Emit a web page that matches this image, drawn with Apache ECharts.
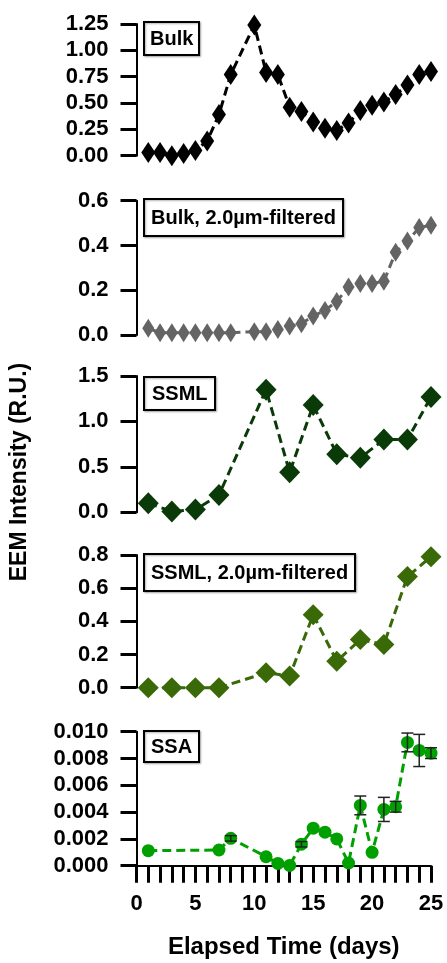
<!DOCTYPE html>
<html>
<head>
<meta charset="utf-8">
<script src="https://cdn.jsdelivr.net/npm/echarts@6/dist/echarts.min.js"></script>
<style>html,body{margin:0;padding:0;background:#fff}#c{width:447px;height:963px}</style>
</head>
<body>
<div id="c"></div>
<script>
// ---- data ----
const bulkDays = [1,2,3,4,5,6,7,8,10,11,12,13,14,15,16,17,18,19,20,21,22,23,24,25];
const bulkVals = [0.03,0.03,0.0,0.02,0.05,0.14,0.39,0.77,1.24,0.79,0.77,0.46,0.42,0.32,0.26,0.24,0.31,0.43,0.48,0.51,0.58,0.67,0.77,0.80];
const bulkFiltDays = [1,2,3,4,5,6,7,8,10,11,12,13,14,15,16,17,18,19,20,21,22,23,24,25];
const bulkFiltVals = [0.03,0.01,0.01,0.01,0.01,0.01,0.01,0.01,0.015,0.015,0.025,0.04,0.05,0.085,0.11,0.15,0.215,0.23,0.23,0.24,0.37,0.42,0.48,0.49];
const ssmlDays = [1,3,5,7,11,13,15,17,19,21,23,25];
const ssmlVals = [0.10,0.01,0.03,0.19,1.35,0.44,1.18,0.64,0.60,0.80,0.80,1.27];
const ssmlFiltDays = [1,3,5,7,11,13,15,17,19,21,23,25];
const ssmlFiltVals = [0.0,0.0,0.0,0.0,0.09,0.07,0.44,0.16,0.29,0.26,0.67,0.79];
const ssaDays = [1,7,8,11,12,13,14,15,16,17,18,19,20,21,22,23,24,25];
const ssaVals = [0.00112,0.00117,0.00204,0.00067,0.00017,0.00002,0.0016,0.0028,0.0025,0.0020,0.0002,0.0045,0.0010,0.0042,0.0044,0.0092,0.0086,0.0084];
const ssaErr  = [0,0,0.0002,0,0,0,0.0002,0,0,0,0,0.0007,0,0.0009,0.0004,0.0007,0.0012,0.0004];
const panelLabels = ['Bulk','Bulk, 2.0\u00b5m-filtered','SSML','SSML, 2.0\u00b5m-filtered','SSA'];
const yMax = [1.25,0.6,1.5,0.8,0.01];
const yInterval = [0.25,0.2,0.5,0.2,0.002];
const yDecimals = [2,1,1,1,3];
const xTickLabels = [0,5,10,15,20,25];

// ---- layout ----
const FONT = '"Liberation Sans", Arial, sans-serif';
const grids = [
  {top:24, height:131.7},
  {top:200.7, height:134.3},
  {top:376, height:136.3},
  {top:555, height:132.7},
  {top:731.7, height:134}
].map(g => Object.assign({left:136.5, width:294.5}, g));
const colors = ['#000000','#646464','#0a3a08','#3a6a08','#00a000'];
const boxTops = [22,199,377,554,731];
const boxPad = [[6,6,5,6],[8,7,7,7],[6,8,5,8],[8,7,7,7],[5,7,4,7]];

const xAxes = grids.map((g,i) => ({
  type:'value', gridIndex:i, min:0, max:25, interval:1,
  show: i===4,
  axisLine:{show:true, lineStyle:{color:'#000', width:2}},
  axisTick:{show:true, inside:false, length:17, lineStyle:{color:'#000', width:3}},
  splitLine:{show:false},
  axisLabel:{show:true, margin:27, color:'#000', fontFamily:FONT, fontWeight:'bold', fontSize:22,
    formatter: v => xTickLabels.indexOf(v) >= 0 ? String(v) : ''},
  name: i===4 ? 'Elapsed Time (days)' : '',
  nameLocation:'middle', nameGap:70,
  nameTextStyle:{color:'#000', fontFamily:FONT, fontWeight:'bold', fontSize:24}
}));
const yAxes = grids.map((g,i) => ({
  type:'value', gridIndex:i, min:0, max:yMax[i], interval:yInterval[i],
  axisLine:{show:true, lineStyle:{color:'#000', width:2}},
  axisTick:{show:true, length:16, lineStyle:{color:'#000', width:3}},
  splitLine:{show:false},
  axisLabel:{margin:28, color:'#000', fontFamily:FONT, fontWeight:'bold', fontSize:22,
    formatter: v => v.toFixed(yDecimals[i])}
}));

function lineSeries(i, days, vals, symbol, size) {
  return {
    type:'line', xAxisIndex:i, yAxisIndex:i,
    data: days.map((d,k) => [d, vals[k]]),
    symbol: symbol, symbolSize: size, clip:false,
    itemStyle:{color:colors[i]},
    lineStyle:{color:colors[i], width:3, type:[9,5]},
    z: 3
  };
}
const series = [
  lineSeries(0, bulkDays, bulkVals, 'diamond', [14,21]),
  lineSeries(1, bulkFiltDays, bulkFiltVals, 'diamond', [12,19]),
  lineSeries(2, ssmlDays, ssmlVals, 'diamond', [21,22]),
  lineSeries(3, ssmlFiltDays, ssmlFiltVals, 'diamond', [21,21]),
  lineSeries(4, ssaDays, ssaVals, 'circle', 13),
  {
    type:'custom', xAxisIndex:4, yAxisIndex:4, z:4, clip:false,
    data: ssaDays.map((d,k) => [d, ssaVals[k] - ssaErr[k], ssaVals[k] + ssaErr[k], ssaErr[k]]),
    renderItem: function(params, api) {
      if (api.value(3) <= 0) return null;
      const lo = api.coord([api.value(0), api.value(1)]);
      const hi = api.coord([api.value(0), api.value(2)]);
      const w = 6;
      const st = {stroke:'#222', lineWidth:1.5, fill:null};
      return {type:'group', children:[
        {type:'line', shape:{x1:lo[0], y1:lo[1], x2:hi[0], y2:hi[1]}, style:st},
        {type:'line', shape:{x1:lo[0]-w, y1:lo[1], x2:lo[0]+w, y2:lo[1]}, style:st},
        {type:'line', shape:{x1:hi[0]-w, y1:hi[1], x2:hi[0]+w, y2:hi[1]}, style:st}
      ]};
    }
  }
];

const titles = panelLabels.map((t,i) => ({
  text:t, left:144, top:boxTops[i], padding:boxPad[i],
  borderWidth:2, borderColor:'#000', backgroundColor:'#fff',
  shadowColor:'rgba(0,0,0,0.3)', shadowBlur:2, shadowOffsetX:1, shadowOffsetY:1,
  textStyle:{color:'#000', fontFamily:FONT, fontWeight:'bold', fontSize:20, lineHeight:22}
}));

const chart = echarts.init(document.getElementById('c'), null, {renderer:'canvas'});
chart.setOption({
  animation:false,
  backgroundColor:'#fff',
  title: titles,
  grid: grids,
  xAxis: xAxes,
  yAxis: yAxes,
  series: series,
  graphic:[{
    type:'text', x:20, y:472, rotation:Math.PI/2, originX:0, originY:0,
    style:{text:'EEM Intensity (R.U.)', fill:'#000', font:'bold 23px "Liberation Sans", Arial, sans-serif',
      textAlign:'center', textVerticalAlign:'middle'}
  }]
});
</script>
</body>
</html>
